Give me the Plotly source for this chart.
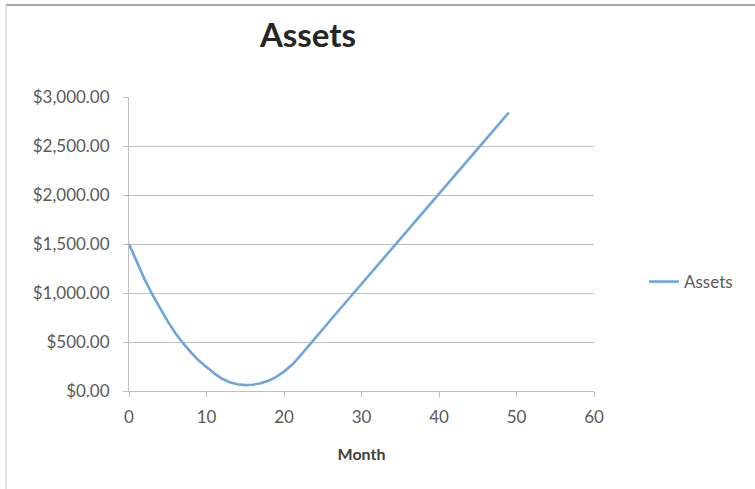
import plotly.graph_objects as go

months = list(range(0, 50))
assets = [1500, 1314, 1142, 985, 840, 710, 590, 485, 395, 310,
          245, 180, 125, 90, 68, 60, 64, 80, 105, 145,
          198, 265, 350, 445, 540, 632, 724, 816, 908, 1000,
          1092, 1184, 1276, 1368, 1460, 1552, 1644, 1736, 1828, 1920,
          2012, 2104, 2196, 2288, 2380, 2472, 2564, 2656, 2748, 2840]

y_ticks = [0, 500, 1000, 1500, 2000, 2500, 3000]
y_tick_labels = ["$" + f"{v:,.2f}" for v in y_ticks]
x_ticks = [0, 10, 20, 30, 40, 50, 60]

W, H = 755, 489
L, R, T, B = 129, 755 - 594, 97, 489 - 391
pw, ph = W - L - R, H - T - B

def px_x(p):
    return (p - L) / pw

def px_y(p):
    return (H - B - p) / ph

font_family = "Lato, 'Open Sans', sans-serif"
tick_color = "#595959"
grid_color = "#bfbfbf"

fig = go.Figure()
fig.add_trace(go.Scatter(
    x=months, y=assets, mode="lines", name="Assets",
    line=dict(color="#6ea5dc", width=2.6),
))

fig.update_layout(
    width=W, height=H,
    margin=dict(l=L, r=R, t=T, b=B),
    paper_bgcolor="white", plot_bgcolor="white",
    font=dict(family=font_family, color=tick_color),
    title=dict(text="<b>Assets</b>", x=308 / W, xanchor="center",
               y=1 - 35 / H, yanchor="middle",
               font=dict(size=33, color="#262626", family=font_family)),
    showlegend=True,
    legend=dict(x=px_x(644), y=px_y(282), xanchor="left", yanchor="middle",
                font=dict(size=17, color=tick_color), bgcolor="rgba(0,0,0,0)"),
    shapes=[
        dict(type="line", xref="paper", yref="paper",
             x0=px_x(6), x1=px_x(760), y0=px_y(5), y1=px_y(5),
             line=dict(color="#a6a6a6", width=2)),
        dict(type="line", xref="paper", yref="paper",
             x0=px_x(6), x1=px_x(6), y0=px_y(5), y1=px_y(495),
             line=dict(color="#c8c8c8", width=1)),
    ],
)

fig.update_xaxes(
    range=[0, 60], tickvals=x_ticks, ticktext=[str(v) for v in x_ticks],
    showgrid=False, zeroline=False, showline=True, linecolor=grid_color,
    linewidth=1, ticks="outside", ticklen=5, tickcolor=grid_color,
    tickfont=dict(size=17, color=tick_color), ticklabelstandoff=6,
    title=dict(text="<b>Month</b>", font=dict(size=16, color="#404040"), standoff=22),
)
fig.update_yaxes(
    range=[0, 3000], tickvals=y_ticks, ticktext=y_tick_labels,
    showgrid=True, gridcolor=grid_color, gridwidth=1, zeroline=False,
    showline=True, linecolor=grid_color, linewidth=1,
    ticks="outside", ticklen=5, tickcolor=grid_color,
    tickfont=dict(size=17, color=tick_color), ticklabelstandoff=10,
)

fig.write_html("out.html")
